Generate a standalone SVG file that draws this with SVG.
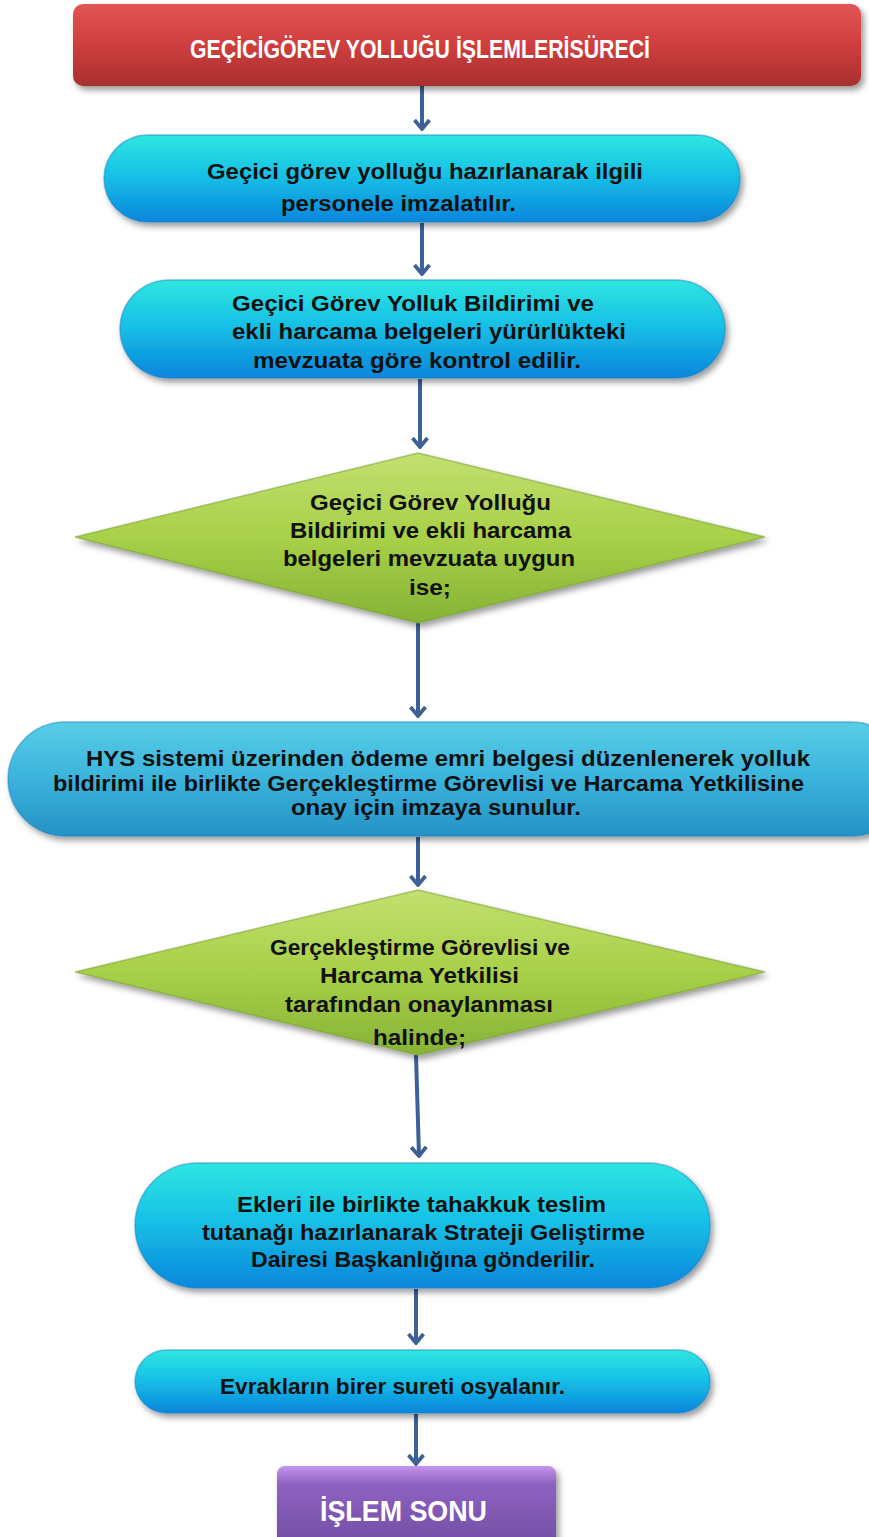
<svg xmlns="http://www.w3.org/2000/svg" width="869" height="1537" viewBox="0 0 869 1537">
  <defs>
    <linearGradient id="gRed" x1="0" y1="0" x2="0" y2="1">
      <stop offset="0" stop-color="#e35555"/>
      <stop offset="0.5" stop-color="#cf3e3e"/>
      <stop offset="1" stop-color="#a82f2f"/>
    </linearGradient>
    <linearGradient id="gCyan" x1="0" y1="0" x2="0" y2="1">
      <stop offset="0" stop-color="#2fe6e0"/>
      <stop offset="0.45" stop-color="#17c2e6"/>
      <stop offset="1" stop-color="#0a86dc"/>
    </linearGradient>
    <linearGradient id="gSteel" x1="0" y1="0" x2="0" y2="1">
      <stop offset="0" stop-color="#58cde6"/>
      <stop offset="0.5" stop-color="#3bb3dc"/>
      <stop offset="1" stop-color="#2492c4"/>
    </linearGradient>
    <linearGradient id="gGreen" x1="0" y1="0" x2="0" y2="1">
      <stop offset="0" stop-color="#c2e070"/>
      <stop offset="0.5" stop-color="#a8d048"/>
      <stop offset="1" stop-color="#86b236"/>
    </linearGradient>
    <linearGradient id="gPurple" x1="0" y1="0" x2="0" y2="1">
      <stop offset="0" stop-color="#c495ee"/>
      <stop offset="0.2" stop-color="#8e62c0"/>
      <stop offset="1" stop-color="#6c4a9e"/>
    </linearGradient>
    <filter id="shadow" x="-10%" y="-20%" width="125%" height="150%">
      <feDropShadow dx="3" dy="4" stdDeviation="3" flood-color="#000" flood-opacity="0.4"/>
    </filter>
    <!-- open chevron head, drawn along +x so orient="auto" follows the line -->
    <marker id="arrow" viewBox="0 0 12 18" refX="10" refY="9" markerWidth="12" markerHeight="18" markerUnits="userSpaceOnUse" orient="auto">
      <path d="M1,1.5 L10,9 L1,16.5" fill="none" stroke="#3d6096" stroke-width="3.8" stroke-linejoin="miter"/>
    </marker>
  </defs>
  <style>
    .lbl { font-family: "Liberation Sans", Arial, sans-serif; font-weight: bold; fill: #111; font-size: 22px; }
    .wht { font-family: "Liberation Sans", Arial, sans-serif; font-weight: bold; fill: #fff; }
    .edge { fill: none; stroke: #3d6096; stroke-width: 4; marker-end: url(#arrow); }
    .rim-c { stroke: #0b7cc0; stroke-opacity: 0.45; stroke-width: 1.5; }
    .rim-g { stroke: #6f9a2a; stroke-opacity: 0.5; stroke-width: 1.5; }
  </style>

  <!-- connectors -->
  <g id="connectors">
    <path class="edge" d="M422,86 L422,129"/>
    <path class="edge" d="M422,223 L422,274"/>
    <path class="edge" d="M420,379 L420,447"/>
    <path class="edge" d="M418,623 L418,716"/>
    <path class="edge" d="M418,837 L418,885"/>
    <path class="edge" d="M416,1055 L419,1156"/>
    <path class="edge" d="M416,1289 L416,1343"/>
    <path class="edge" d="M416,1414 L416,1464"/>
  </g>

  <!-- process title -->
  <g id="title">
    <rect x="73" y="4" width="788" height="82" rx="10" fill="url(#gRed)" filter="url(#shadow)"/>
    <text class="wht" x="190" y="58" font-size="25" textLength="460" lengthAdjust="spacingAndGlyphs">GEÇİCİGÖREV YOLLUĞU İŞLEMLERİSÜRECİ</text>
  </g>

  <!-- step 1 -->
  <g id="step1">
    <rect class="rim-c" x="104" y="135" width="636" height="87" rx="43.5" fill="url(#gCyan)" filter="url(#shadow)"/>
    <text class="lbl" x="207" y="179" textLength="436" lengthAdjust="spacingAndGlyphs">Geçici görev yolluğu hazırlanarak ilgili</text>
    <text class="lbl" x="281" y="211" textLength="235" lengthAdjust="spacingAndGlyphs">personele imzalatılır.</text>
  </g>

  <!-- step 2 -->
  <g id="step2">
    <rect class="rim-c" x="120" y="280" width="605" height="98" rx="49" fill="url(#gCyan)" filter="url(#shadow)"/>
    <text class="lbl" x="232" y="311" textLength="362" lengthAdjust="spacingAndGlyphs">Geçici Görev Yolluk Bildirimi ve</text>
    <text class="lbl" x="232" y="339" textLength="394" lengthAdjust="spacingAndGlyphs">ekli harcama belgeleri yürürlükteki</text>
    <text class="lbl" x="253" y="368" textLength="328" lengthAdjust="spacingAndGlyphs">mevzuata göre kontrol edilir.</text>
  </g>

  <!-- decision 1 -->
  <g id="decision1">
    <polygon class="rim-g" points="75,537 418,453 765,537 418,623" fill="url(#gGreen)" filter="url(#shadow)"/>
    <text class="lbl" x="310" y="510" textLength="241" lengthAdjust="spacingAndGlyphs">Geçici Görev Yolluğu</text>
    <text class="lbl" x="290" y="538" textLength="281" lengthAdjust="spacingAndGlyphs">Bildirimi ve ekli harcama</text>
    <text class="lbl" x="283" y="566" textLength="292" lengthAdjust="spacingAndGlyphs">belgeleri mevzuata uygun</text>
    <text class="lbl" x="409" y="595" textLength="42" lengthAdjust="spacingAndGlyphs">ise;</text>
  </g>

  <!-- step 3 -->
  <g id="step3">
    <rect class="rim-c" x="8" y="722" width="900" height="114" rx="57" fill="url(#gSteel)" filter="url(#shadow)"/>
    <text class="lbl" x="86" y="766" textLength="724" lengthAdjust="spacingAndGlyphs">HYS sistemi üzerinden ödeme emri belgesi düzenlenerek yolluk</text>
    <text class="lbl" x="53" y="791" textLength="751" lengthAdjust="spacingAndGlyphs">bildirimi ile birlikte Gerçekleştirme Görevlisi ve Harcama Yetkilisine</text>
    <text class="lbl" x="291" y="815" textLength="290" lengthAdjust="spacingAndGlyphs">onay için imzaya sunulur.</text>
  </g>

  <!-- decision 2 -->
  <g id="decision2">
    <polygon class="rim-g" points="75,972 418,890 765,972 418,1055" fill="url(#gGreen)" filter="url(#shadow)"/>
    <text class="lbl" x="270" y="955" textLength="300" lengthAdjust="spacingAndGlyphs">Gerçekleştirme Görevlisi ve</text>
    <text class="lbl" x="320" y="983" textLength="199" lengthAdjust="spacingAndGlyphs">Harcama Yetkilisi</text>
    <text class="lbl" x="285" y="1012" textLength="268" lengthAdjust="spacingAndGlyphs">tarafından onaylanması</text>
    <text class="lbl" x="373" y="1045" textLength="93" lengthAdjust="spacingAndGlyphs">halinde;</text>
  </g>

  <!-- step 4 -->
  <g id="step4">
    <rect class="rim-c" x="135" y="1163" width="575" height="125" rx="62.5" fill="url(#gCyan)" filter="url(#shadow)"/>
    <text class="lbl" x="237" y="1212" textLength="369" lengthAdjust="spacingAndGlyphs">Ekleri ile birlikte tahakkuk teslim</text>
    <text class="lbl" x="202" y="1240" textLength="443" lengthAdjust="spacingAndGlyphs">tutanağı hazırlanarak Strateji Geliştirme</text>
    <text class="lbl" x="251" y="1267" textLength="344" lengthAdjust="spacingAndGlyphs">Dairesi Başkanlığına gönderilir.</text>
  </g>

  <!-- step 5 -->
  <g id="step5">
    <rect class="rim-c" x="135" y="1350" width="575" height="63" rx="31.5" fill="url(#gCyan)" filter="url(#shadow)"/>
    <text class="lbl" x="220" y="1394" textLength="345" lengthAdjust="spacingAndGlyphs">Evrakların birer sureti osyalanır.</text>
  </g>

  <!-- end -->
  <g id="end">
    <rect x="277" y="1466" width="279" height="90" rx="8" fill="url(#gPurple)" filter="url(#shadow)"/>
    <text class="wht" x="320" y="1521" font-size="30" textLength="167" lengthAdjust="spacingAndGlyphs">İŞLEM SONU</text>
  </g>
</svg>
